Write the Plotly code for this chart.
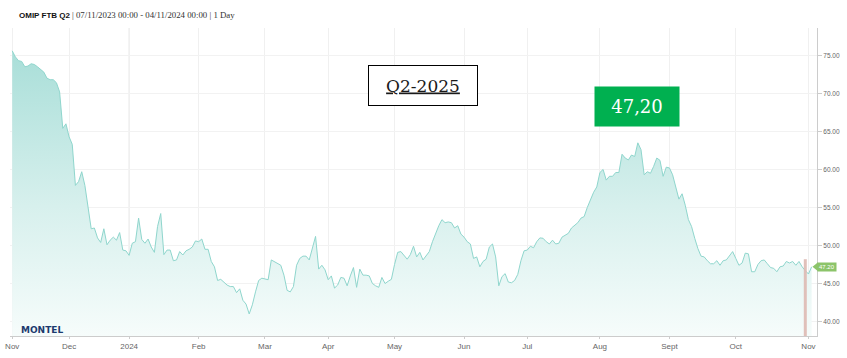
import plotly.graph_objects as go
import pandas as pd

# ---------------- data ----------------
series_name = "OMIP FTB Q2"
period_text = "| 07/11/2023 00:00 - 04/11/2024 00:00 | 1 Day"
start_date = "2023-11-07"
end_date = "2024-11-04"
holidays = ["2023-12-25", "2023-12-26", "2024-01-01", "2024-03-29", "2024-04-01", "2024-05-01"]

prices = [
    # Nov 2023
    75.6, 74.8, 74.3, 74.2, 73.5, 73.6, 73.9, 73.8, 73.5, 73.2, 72.8, 72.0, 71.8, 71.8, 71.4, 70.2, 65.4, 66.0,
    # Dec 2023
    64.3, 63.3, 57.9, 58.4, 59.7, 57.9, 54.9, 52.2, 52.3, 51.0, 50.4, 52.2, 50.1, 50.7, 51.1, 50.7, 51.7, 49.4, 49.3,
    # Jan 2024
    48.7, 50.3, 50.5, 53.6, 50.8, 50.3, 50.85, 49.8, 49.1, 52.5, 54.2, 48.8, 49.4, 49.4, 48.0, 48.1, 49.2, 48.75,
    49.3, 49.5, 49.8, 50.6,
    # Feb
    50.5, 50.85, 49.5, 49.5, 47.9, 47.2, 45.4, 45.55, 45.2, 44.8, 44.6, 44.6, 43.8, 44.3, 42.8, 42.3, 41.0, 42.2,
    43.9, 45.4, 45.7,
    # Mar
    45.6, 45.5, 48.1, 47.9, 47.7, 47.4, 46.1, 44.1, 43.9, 44.6, 47.4, 48.3, 48.6, 48.6, 48.1, 49.8, 51.2, 46.9,
    47.4, 46.8,
    # Apr
    45.5, 46.0, 44.4, 44.8, 45.8, 45.7, 44.7, 46.0, 47.1, 44.5, 46.9, 46.1, 46.1, 46.0, 45.0, 44.7, 44.5, 45.8,
    45.0, 45.3, 45.55,
    # May
    47.5, 49.1, 49.2, 48.7, 48.2, 48.8, 49.9, 48.5, 49.1, 48.1, 48.7, 49.2, 50.5, 51.6, 52.6, 53.4, 53.0, 53.1,
    53.0, 52.3, 52.6, 51.5,
    # Jun
    51.1, 50.5, 50.2, 48.3, 48.5, 47.2, 47.9, 48.2, 49.8, 50.2, 48.5, 44.7, 45.9, 46.3, 45.2, 45.1, 45.4, 46.2,
    48.0, 49.3,
    # Jul
    49.4, 49.9, 49.7, 50.5, 51.0, 50.95, 50.5, 50.2, 50.7, 50.2, 50.3, 51.1, 51.4, 51.6, 52.3, 52.6, 53.0, 53.6,
    53.8, 55.0, 56.0, 57.0, 57.7,
    # Aug
    59.6, 60.0, 58.6, 59.1, 59.1, 59.6, 59.6, 62.0, 61.5, 61.25, 61.9, 61.7, 63.5, 62.6, 59.3, 59.7, 59.5, 60.4,
    61.5, 61.2, 59.1, 60.3,
    # Sep
    60.2, 59.3, 57.5, 56.1, 56.8, 55.3, 53.4, 52.5, 50.95, 49.6, 48.6, 48.5, 48.0, 47.6, 47.6, 48.0, 47.4, 48.0,
    48.1, 48.6, 49.2,
    # Oct
    48.3, 47.4, 47.7, 49.0, 48.9, 46.55, 46.55, 47.5, 48.0, 48.1, 47.6, 47.1, 47.0, 46.55, 47.2, 47.3, 47.9, 47.7,
    47.9, 47.4, 47.9, 47.2, 46.7,
    # Nov 2024
    46.25, 47.2,
]
last_price_label = "47.20"
box_label = "Q2-2025"
price_label = "47,20"
logo_text = "MONTEL"
highlight_date = "2024-10-31"
highlight_value = 48.2
month_names = {1: "2024", 2: "Feb", 3: "Mar", 4: "Apr", 5: "May", 6: "Jun", 7: "Jul", 8: "Aug",
               9: "Sept", 10: "Oct", 11: "Nov", 12: "Dec"}
y_ticks = [40, 45, 50, 55, 60, 65, 70, 75]
y_range = [38.1, 78.6]

# ---------------- build ordinal axis ----------------
dates = pd.bdate_range(start_date, end_date, freq="C", holidays=holidays)
n = min(len(dates), len(prices))
dates = dates[:n]
prices = prices[:n]
idx = list(range(n))

tickvals, ticktext = [], []
prev_month = None
for i, d in enumerate(dates):
    if d.month != prev_month:
        tickvals.append(i)
        ticktext.append(month_names[d.month])
        prev_month = d.month
jan_idx = [i for i, d in enumerate(dates) if d.year == 2024 and d.month == 1][0]
hl_idx = int(list(dates.strftime("%Y-%m-%d")).index(highlight_date))

W, H = 847, 358
ML, MR, MT, MB = 10, 30, 28, 22
PW, PH = W - ML - MR, H - MT - MB


def px_x(p):
    return (p - ML) / PW


def px_y(p):
    return 1 - (p - MT) / PH


fig = go.Figure()

fig.add_trace(go.Scatter(
    x=idx, y=prices, mode="lines",
    line=dict(color="#8fd6cd", width=1),
    fill="tozeroy",
    fillgradient=dict(
        type="vertical", start=y_range[0], stop=76,
        colorscale=[[0, "rgba(246,252,251,1)"], [0.45, "rgb(215,240,237)"], [1, "rgb(168,222,216)"]],
    ),
    hoverinfo="skip", showlegend=False,
))

# highlighted day (drawn as a thick vertical segment above the area)
fig.add_trace(go.Scatter(
    x=[hl_idx, hl_idx], y=[y_range[0], highlight_value], mode="lines",
    line=dict(color="rgba(222,185,178,0.9)", width=3),
    hoverinfo="skip", showlegend=False,
))

fig.add_vline(x=jan_idx, line=dict(color="#e2e2e2", width=1), layer="below")

# title
fig.add_annotation(xref="paper", yref="paper", x=px_x(17), y=px_y(15), xanchor="left", yanchor="middle",
                   text="<b>" + series_name + "</b>", showarrow=False,
                   font=dict(family="Liberation Sans, Arial", size=8, color="#111"))
fig.add_annotation(xref="paper", yref="paper", x=px_x(70), y=px_y(15), xanchor="left", yanchor="middle",
                   text=period_text, showarrow=False,
                   font=dict(family="Liberation Serif, Georgia, serif", size=8.8, color="#333"))

# Q2-2025 box
fig.add_annotation(xref="paper", yref="paper", x=px_x(423), y=px_y(85.5), xanchor="center", yanchor="middle",
                   text="<u>" + box_label + "</u>", showarrow=False,
                   width=108, height=39, borderpad=0,
                   bgcolor="white", bordercolor="black", borderwidth=1,
                   font=dict(family="DejaVu Serif, serif", size=17, color="#1a1a1a"))

# green price box
fig.add_annotation(xref="paper", yref="paper", x=px_x(637), y=px_y(106.3), xanchor="center", yanchor="middle",
                   text=price_label, showarrow=False,
                   width=84, height=39, borderpad=0, bgcolor="#00b050",
                   font=dict(family="DejaVu Serif, serif", size=18, color="white"))

# last price flag on the axis
fig.add_annotation(xref="paper", yref="y", x=px_x(817.5), y=prices[-1], xanchor="left", yanchor="middle",
                   text=last_price_label, showarrow=False, bgcolor="#8cc46a", borderpad=1,
                   font=dict(family="Liberation Sans, Arial", size=6, color="white"))
fig.add_shape(type="path", xref="paper", yref="y",
              path="M {a},{y0} L {b},{y1} L {b},{y2} Z".format(
                  a=px_x(812.5), b=px_x(818), y0=prices[-1], y1=prices[-1] + 0.6, y2=prices[-1] - 0.6),
              fillcolor="#8cc46a", line=dict(width=0), layer="above")

# Montel logo
fig.add_annotation(xref="paper", yref="paper", x=px_x(19), y=px_y(330), xanchor="left", yanchor="middle",
                   text="<b>" + logo_text + "</b>", showarrow=False,
                   font=dict(family="DejaVu Sans, sans-serif", size=9, color="#1c3a6e"))

fig.update_xaxes(
    range=[-0.7, n + 0.7], tickvals=tickvals, ticktext=ticktext,
    showgrid=True, gridcolor="#f0f0f0", gridwidth=1,
    showline=True, linecolor="#cccccc", linewidth=1,
    ticks="outside", ticklen=2, tickcolor="#cccccc",
    tickfont=dict(family="Liberation Sans, Arial", size=8, color="#666"),
    zeroline=False, fixedrange=True, automargin=False,
)
fig.update_yaxes(
    range=y_range, side="right", tickvals=y_ticks, tickformat=".2f",
    showgrid=True, gridcolor="#f2f2f2", gridwidth=1,
    showline=True, linecolor="#cccccc", linewidth=1,
    ticks="outside", ticklen=4, tickcolor="#cccccc",
    tickfont=dict(family="Liberation Sans, Arial", size=6.5, color="#666"),
    zeroline=False, fixedrange=True, automargin=False,
)
fig.update_layout(
    width=W, height=H,
    margin=dict(l=ML, r=MR, t=MT, b=MB, pad=0, autoexpand=False),
    paper_bgcolor="white", plot_bgcolor="white",
    showlegend=False,
)

fig.write_html("out.html", config={"displayModeBar": False},
               post_script="document.body.style.margin='0';document.body.style.overflow='hidden';")
